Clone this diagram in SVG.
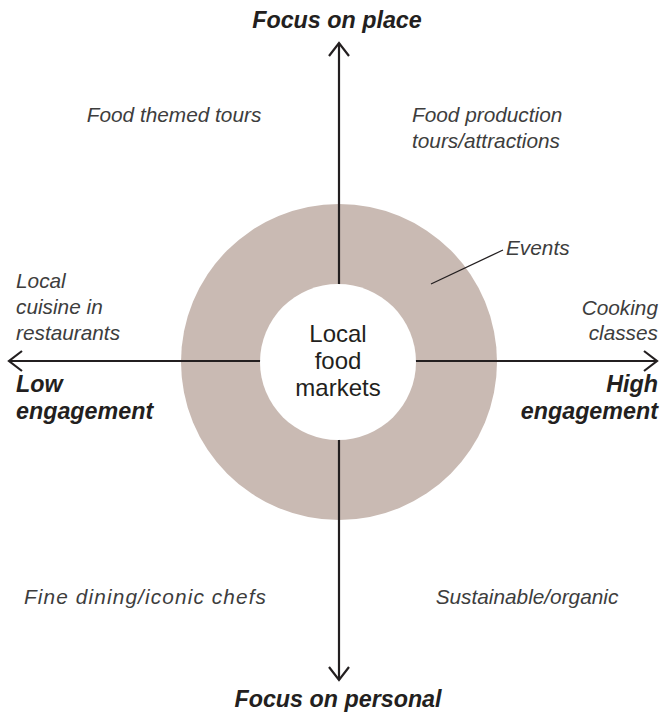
<svg xmlns="http://www.w3.org/2000/svg" width="662" height="713" viewBox="0 0 662 713">
<style>
.lbl{font-family:"Liberation Sans",Arial,sans-serif;font-style:italic;font-size:20.8px;fill:#3d3d3d}
.ax{font-family:"Liberation Sans",Arial,sans-serif;font-style:italic;font-weight:bold;font-size:23.3px;fill:#231f20}
.ctr{font-family:"Liberation Sans",Arial,sans-serif;font-size:24px;fill:#231f20;text-anchor:middle}
.ln{stroke:#231f20;stroke-width:2.2;fill:none}
</style>
<rect width="662" height="713" fill="#fff"/>
<g id="ring"><circle cx="339" cy="362" r="158" fill="#c9bab3"/></g>
<g id="connectors">
<line class="ln" x1="339" y1="43" x2="339" y2="680"/>
<line class="ln" x1="9" y1="361" x2="657" y2="361"/>
<polyline class="ln" points="329,56 339,43 349,56"/>
<polyline class="ln" points="329,667 339,680 349,667"/>
<polyline class="ln" points="22,351 9,361 22,371"/>
<polyline class="ln" points="644,351 657,361 644,371"/>
<line stroke="#231f20" stroke-width="1.3" x1="431" y1="284" x2="503" y2="250"/>
</g>
<g id="center"><circle cx="338" cy="362" r="78" fill="#fff"/>
<text class="ctr" x="338" y="342">Local</text>
<text class="ctr" x="338" y="369">food</text>
<text class="ctr" x="338" y="396">markets</text></g>
<g id="top"><text class="ax" x="337" y="28" text-anchor="middle">Focus on place</text></g>
<g id="bottom"><text class="ax" x="338" y="707" text-anchor="middle">Focus on personal</text></g>
<g id="left"><text class="ax" x="16" y="392">Low</text><text class="ax" x="16" y="419">engagement</text></g>
<g id="right"><text class="ax" x="658" y="392" text-anchor="end">High</text><text class="ax" x="658" y="419" text-anchor="end">engagement</text></g>
<g id="tours"><text class="lbl" x="174" y="122" text-anchor="middle">Food themed tours</text></g>
<g id="production"><text class="lbl" x="412" y="122">Food production</text><text class="lbl" x="412" y="148">tours/attractions</text></g>
<g id="events"><text class="lbl" x="506" y="255">Events</text></g>
<g id="cuisine"><text class="lbl" x="16" y="288">Local</text><text class="lbl" x="16" y="314">cuisine in</text><text class="lbl" x="16" y="340">restaurants</text></g>
<g id="cooking"><text class="lbl" x="658" y="315" text-anchor="end">Cooking</text><text class="lbl" x="658" y="340" text-anchor="end">classes</text></g>
<g id="fine"><text class="lbl" x="24" y="604" textLength="242" lengthAdjust="spacing">Fine dining/iconic chefs</text></g>
<g id="sustainable"><text class="lbl" x="527" y="604" text-anchor="middle">Sustainable/organic</text></g>
</svg>
